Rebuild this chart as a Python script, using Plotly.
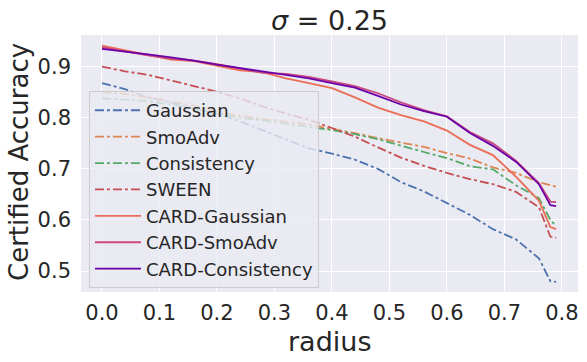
import plotly.graph_objects as go

radius = [0.00, 0.04, 0.08, 0.12, 0.16, 0.20, 0.24, 0.28, 0.32, 0.36, 0.40,
          0.44, 0.48, 0.52, 0.56, 0.60, 0.64, 0.68, 0.72, 0.76, 0.78, 0.79]

gaussian = [0.868, 0.856, 0.840, 0.830, 0.818, 0.808, 0.793, 0.775, 0.758, 0.740, 0.730,
            0.718, 0.700, 0.674, 0.656, 0.633, 0.610, 0.582, 0.562, 0.525, 0.480, 0.479]
smoadv = [0.850, 0.847, 0.840, 0.832, 0.824, 0.812, 0.804, 0.798, 0.792, 0.787, 0.778,
          0.770, 0.760, 0.752, 0.743, 0.731, 0.720, 0.703, 0.692, 0.674, 0.667, 0.665]
consistency = [0.838, 0.836, 0.833, 0.826, 0.818, 0.808, 0.800, 0.795, 0.788, 0.782, 0.776,
               0.768, 0.758, 0.745, 0.733, 0.721, 0.705, 0.699, 0.668, 0.643, 0.600, 0.588]
sween = [0.900, 0.891, 0.884, 0.873, 0.861, 0.851, 0.838, 0.822, 0.808, 0.796, 0.780,
         0.763, 0.742, 0.722, 0.706, 0.692, 0.680, 0.670, 0.655, 0.625, 0.567, 0.565]
card_gaussian = [0.941, 0.932, 0.924, 0.914, 0.911, 0.902, 0.893, 0.889, 0.877, 0.868, 0.858,
                 0.840, 0.820, 0.805, 0.793, 0.775, 0.747, 0.727, 0.685, 0.638, 0.586, 0.582]
card_smoadv = [0.938, 0.930, 0.922, 0.916, 0.912, 0.905, 0.897, 0.888, 0.886, 0.880, 0.871,
               0.862, 0.848, 0.830, 0.815, 0.803, 0.772, 0.750, 0.716, 0.672, 0.636, 0.635]
card_consistency = [0.935, 0.930, 0.924, 0.918, 0.912, 0.904, 0.897, 0.890, 0.884, 0.877, 0.868,
                    0.859, 0.843, 0.826, 0.813, 0.802, 0.770, 0.745, 0.714, 0.670, 0.629, 0.627]

x_ticks = [0.0, 0.1, 0.2, 0.3, 0.4, 0.5, 0.6, 0.7, 0.8]
y_ticks = [0.5, 0.6, 0.7, 0.8, 0.9]

series = [
    ("Gaussian", gaussian, "#4C72B0", "dashdot"),
    ("SmoAdv", smoadv, "#DD8452", "dashdot"),
    ("Consistency", consistency, "#55A868", "dashdot"),
    ("SWEEN", sween, "#C44E52", "dashdot"),
    ("CARD-Gaussian", card_gaussian, "#EB6D55", "solid"),
    ("CARD-SmoAdv", card_smoadv, "#CA4A80", "solid"),
    ("CARD-Consistency", card_consistency, "#6A00A8", "solid"),
]

fig = go.Figure()
for name, ys, color, dash in series:
    fig.add_trace(go.Scatter(x=radius, y=ys, mode="lines", name=name,
                             line=dict(color=color, width=1.8, dash=dash)))

font = "DejaVu Sans, sans-serif"
W, H = 587, 362
ML, MR, MT, MB = 81, 9, 35, 70
plot_h = H - MT - MB

fig.update_layout(
    width=W, height=H,
    margin=dict(l=ML, r=MR, t=MT, b=MB, autoexpand=False),
    paper_bgcolor="white",
    plot_bgcolor="#EAEAF2",
    font=dict(family=font, color="#262626"),
    title=dict(text="<i>σ</i> = 0.25", x=0.5, xanchor="center", xref="paper",
               y=1 - 21 / H, yref="container", yanchor="middle",
               font=dict(size=27, family=font, color="#262626")),
    xaxis=dict(range=[-0.0365, 0.828], tickvals=x_ticks, ticktext=[f"{v:.1f}" for v in x_ticks],
               showgrid=True, gridcolor="white", gridwidth=1.4, zeroline=False,
               tickfont=dict(size=21), ticks="", showline=False, automargin=False,
               ticklabelstandoff=6),
    yaxis=dict(range=[0.459, 0.962], tickvals=y_ticks, ticktext=[f"{v:.1f}" for v in y_ticks],
               showgrid=True, gridcolor="white", gridwidth=1.4, zeroline=False,
               tickfont=dict(size=21), ticks="", showline=False, automargin=False,
               ticklabelstandoff=9),
    legend=dict(x=0.016, y=0.782, xanchor="left", yanchor="top",
                bgcolor="rgba(234,234,242,0.8)", bordercolor="#CCCCCC", borderwidth=1,
                font=dict(size=18, color="#262626"), tracegroupgap=0, itemwidth=46),
    showlegend=True,
    annotations=[
        dict(text="radius", xref="paper", yref="paper", x=0.5, xanchor="center",
             y=-(341 - (H - MB)) / plot_h, yanchor="middle", showarrow=False,
             font=dict(size=27, family=font, color="#262626")),
        dict(text="Certified Accuracy", xref="paper", yref="paper",
             x=-(ML - 19) / (W - ML - MR), xanchor="center",
             y=1 - (162 - MT) / plot_h, yanchor="middle", textangle=-90, showarrow=False,
             font=dict(size=26, family=font, color="#262626")),
    ],
)

fig.write_html("out.html", config={"displayModeBar": False},
               post_script="document.body.style.margin='0';")
